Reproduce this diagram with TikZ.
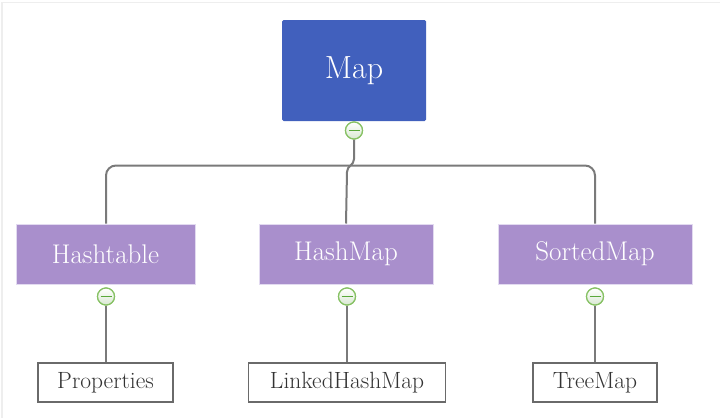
\documentclass[tikz,border=0pt]{standalone}
\usepackage{fontspec}
\definecolor{mapblue}{HTML}{4160BD}
\definecolor{purp}{HTML}{A98FCC}
\definecolor{purpborder}{HTML}{E2DAF0}
\definecolor{linegray}{HTML}{7A7A7A}
\definecolor{leafborder}{HTML}{6A6A6A}
\definecolor{leaftext}{HTML}{333333}
\definecolor{togglegreen}{HTML}{86C163}
\definecolor{minusgreen}{HTML}{5AA83A}
\definecolor{togglefill}{HTML}{D9E8D2}
\tikzset{
  rootbox/.style={fill=mapblue, draw=none, rounded corners=1.5pt, minimum width=144pt, minimum height=101pt, inner sep=0pt, text=white, font=\fontsize{32}{36}\selectfont},
  midbox/.style={fill=purp, draw=purpborder, line width=1pt, minimum height=60pt, inner sep=0pt, text=white, font=\fontsize{27}{30}\selectfont},
  leafbox/.style={fill=white, draw=leafborder, line width=1.5pt, minimum height=39pt, inner sep=0pt, text=leaftext, font=\fontsize{23.5}{26}\selectfont},
  conn/.style={draw=linegray, line width=2pt},
  togglebtn/.style={circle, minimum size=17pt, inner sep=0pt, draw=togglegreen, line width=1.2pt, top color=white, bottom color=togglefill},
}
\newcommand{\minusmark}[1]{\draw[minusgreen, line width=1.3pt] ([xshift=-5.5pt]#1.center) -- ([xshift=5.5pt]#1.center);}
\begin{document}
\begin{tikzpicture}[x=1pt,y=-1pt]
\useasboundingbox (0,0) rectangle (720,418);
\fill[white] (0,0) rectangle (720,418);
\draw[color={rgb,255:red,238;green,238;blue,238}, line width=1.5pt] (2,418) -- (2,2.5) -- (720,2.5);

% nodes
\node[rootbox] (map) at (354,70.5) {\raisebox{-2pt}{Map}};
\node[midbox, minimum width=179pt] (hashtable) at (105.5,254) {Hashtable};
\node[midbox, minimum width=174pt] (hashmap) at (346,254) {HashMap};
\node[midbox, minimum width=194pt] (sortedmap) at (595,254) {SortedMap};
\node[leafbox, minimum width=135pt] (properties) at (105.5,382.5) {Properties};
\node[leafbox, minimum width=197pt] (linked) at (347,382.5) {LinkedHashMap};
\node[leafbox, minimum width=124pt] (treemap) at (595,382.5) {TreeMap};

% toggles
\node[togglebtn] (t0) at (354,130.5) {};
\node[togglebtn] (t1) at (106,296.5) {};
\node[togglebtn] (t2) at (347,296.5) {};
\node[togglebtn] (t3) at (595,296.5) {};

% junction coordinates
\coordinate (jl) at (106,165.5);
\coordinate (jr) at (595,165.5);

% connectors
\draw[conn, rounded corners=10pt] (hashtable.north -| jl) -- (jl) -- (jr) -- (sortedmap.north -| jr);
\draw[conn] (t0.south) -- (354,159) .. controls (354,165.5) and (347,165.5) .. (347,172) -- (hashmap.north);
\draw[conn] (t1.south) -- (properties.north -| t1);
\draw[conn] (t2.south) -- (linked.north -| t2);
\draw[conn] (t3.south) -- (treemap.north -| t3);

% redraw toggles on top
\node[togglebtn] at (t0) {};
\node[togglebtn] at (t1) {};
\node[togglebtn] at (t2) {};
\node[togglebtn] at (t3) {};
\minusmark{t0}
\minusmark{t1}
\minusmark{t2}
\minusmark{t3}
\end{tikzpicture}
\end{document}
